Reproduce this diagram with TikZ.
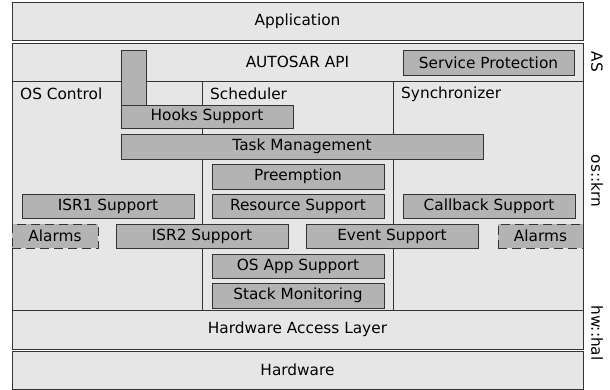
\documentclass[tikz,border=0pt]{standalone}
\usepackage{fontspec}
\setmainfont{DejaVu Sans}
\definecolor{layerfill}{HTML}{E6E6E6}
\definecolor{modfill}{HTML}{B3B3B3}
\definecolor{edge}{HTML}{333333}

\begin{document}
\begin{tikzpicture}[
    x=1bp, y=-1bp,
    font=\fontsize{15.4}{18}\selectfont,
    layer/.style={rectangle, draw=edge, fill=layerfill, line width=0.9bp, minimum width=571bp, inner sep=0pt},
    module/.style={rectangle, draw=edge, fill=modfill, line width=0.9bp, minimum width=172bp, minimum height=24bp, inner sep=0pt},
    optional/.style={module, dash pattern=on 9bp off 5bp},
    column/.style={anchor=west, inner sep=0pt},
    tag/.style={rotate=-90, inner sep=0pt}
]
\useasboundingbox (0,0) rectangle (610,389);

% layers
\node[layer, minimum height=38bp] (app) at (297.5,21) {Application};
\node[layer, minimum height=38bp] (api) at (297.5,62) {AUTOSAR API};
\node[layer, minimum height=229bp] (krn) at (297.5,195.5) {};
\node[layer, minimum height=39bp] (hal) at (297.5,329.5) {Hardware Access Layer};
\node[layer, minimum height=38bp] (hw) at (297.5,370) {Hardware};

% columns
\draw[edge, line width=0.9bp] (krn.north -| 202,0) -- (krn.south -| 202,0);
\draw[edge, line width=0.9bp] (krn.north -| 393,0) -- (krn.south -| 393,0);
\node[column] (ctrl) at (20,94) {OS Control};
\node[column] (sched) at (210,94) {Scheduler};
\node[column] (sync) at (401,94) {Synchronizer};

% modules
\node[module, minimum width=25bp, minimum height=55bp] (hooksbar) at (133.5,77.5) {};
\node[module, minimum height=23bp] (hooks) at (207,116.5) {Hooks Support};
\node[module, minimum width=171bp, minimum height=25bp] (service) at (488.5,62.5) {Service Protection};
\node[module, minimum width=362bp, minimum height=25bp] (task) at (302,146.5) {Task Management};
\node[module, minimum height=25bp] (preempt) at (298,176.5) {Preemption};
\node[module] (isr1) at (108,206) {ISR1 Support};
\node[module] (resource) at (298,206) {Resource Support};
\node[module] (callback) at (489,206) {Callback Support};
\node[optional, minimum width=86bp] (alarmsL) at (55,236) {Alarms};
\node[module] (isr2) at (202,236) {ISR2 Support};
\node[module] (event) at (392,236) {Event Support};
\node[optional, minimum width=85bp] (alarmsR) at (540.5,236) {Alarms};
\node[module] (osapp) at (298,266) {OS App Support};
\node[module, minimum height=25bp] (stack) at (298,295.5) {Stack Monitoring};

% side tags
\node[tag] (tagAS) at (597,62) {AS};
\node[tag] (tagKrn) at (597,181) {os::krn};
\node[tag] (tagHal) at (597,333) {hw::hal};

\end{tikzpicture}
\end{document}
